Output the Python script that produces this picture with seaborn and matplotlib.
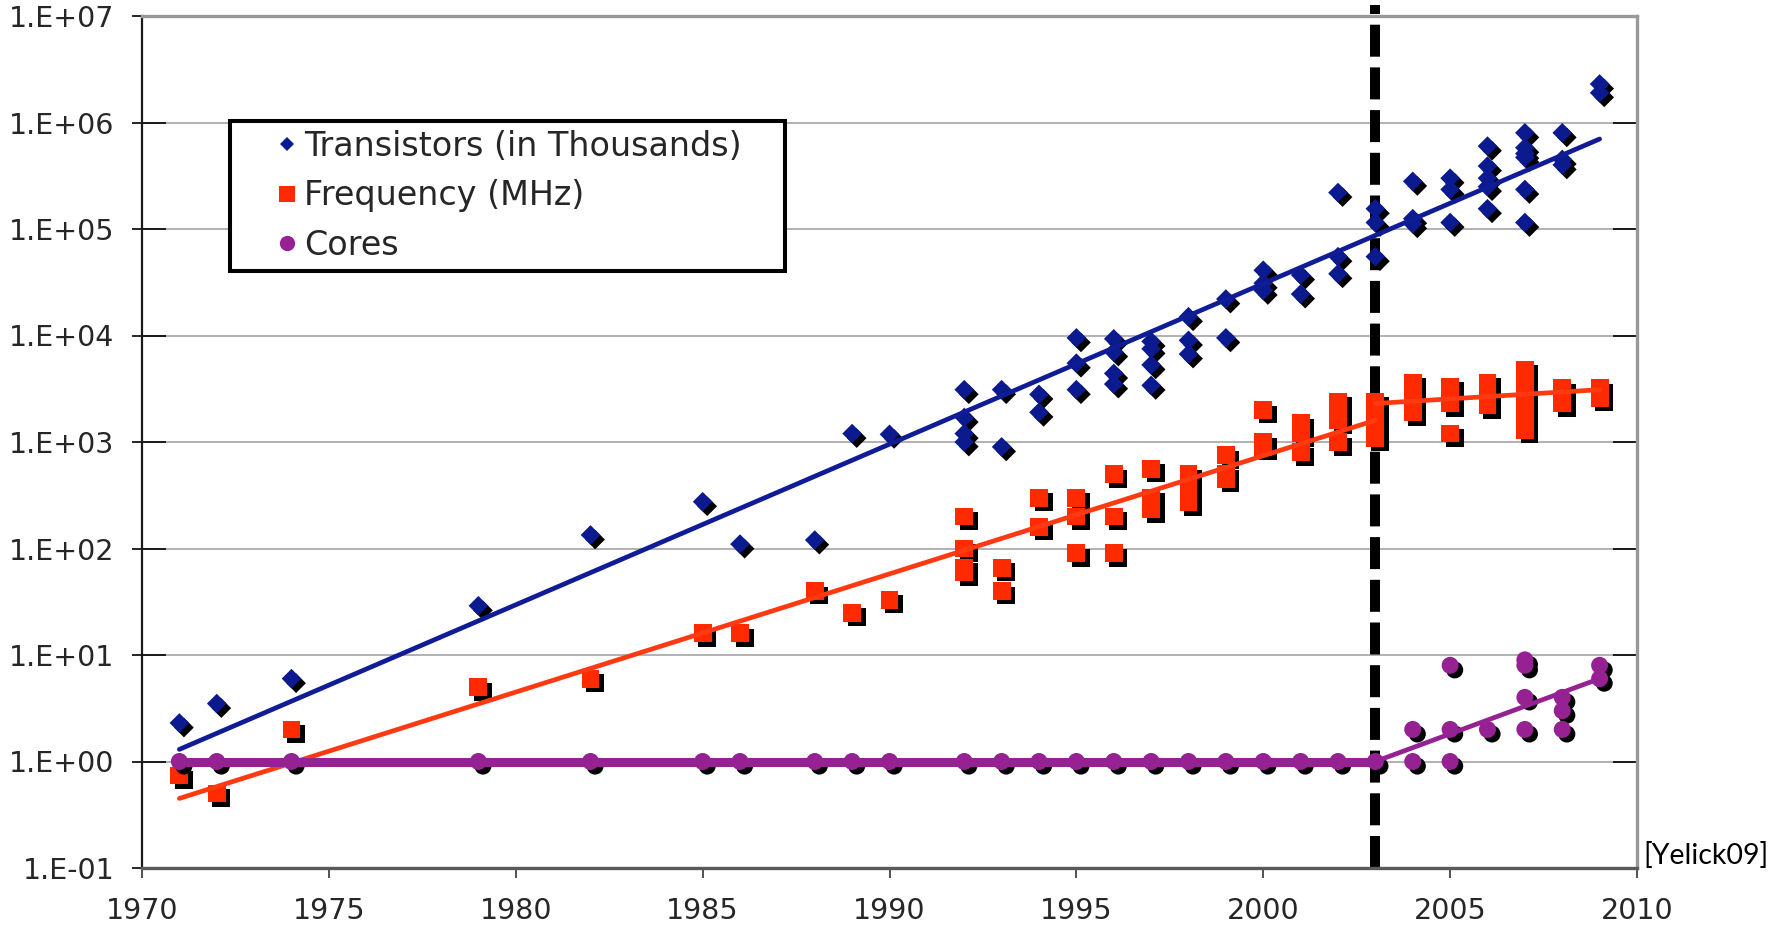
import numpy as np
import matplotlib
matplotlib.use("Agg")
import matplotlib.pyplot as plt
import matplotlib.patheffects as pe
from matplotlib.lines import Line2D
from matplotlib.ticker import FixedLocator, FuncFormatter, NullFormatter
import seaborn as sns

# ---------------- data ----------------
trans_years = [1971, 1972, 1974, 1979, 1982, 1985, 1986, 1988, 1989, 1990,
               1992, 1992, 1992, 1992, 1993, 1993, 1994, 1994,
               1995, 1995, 1995, 1996, 1996, 1996, 1996,
               1997, 1997, 1997, 1997, 1998, 1998, 1998, 1999, 1999,
               2000, 2000, 2000, 2001, 2001, 2002, 2002, 2002,
               2003, 2003, 2003, 2004, 2004, 2004, 2005, 2005, 2005,
               2006, 2006, 2006, 2006, 2006,
               2007, 2007, 2007, 2007, 2007, 2007,
               2008, 2008, 2008, 2009, 2009]
trans_vals = [2.3, 3.5, 6, 29, 134, 275, 110, 120, 1200, 1180,
              3100, 1700, 1200, 1000, 3100, 900, 2800, 1900,
              9500, 5500, 3100, 9300, 7000, 4400, 3500,
              8800, 7500, 5300, 3400, 15000, 9000, 6700, 22000, 9500,
              41000, 31000, 26500, 37000, 24500, 220000, 55000, 38000,
              155000, 115000, 55000, 280000, 125000, 112000, 300000, 235000, 115000,
              600000, 390000, 300000, 250000, 155000,
              800000, 580000, 510000, 470000, 235000, 115000,
              800000, 450000, 400000, 2300000, 1900000]

freq_years = [1971, 1972, 1974, 1979, 1982, 1985, 1986, 1988, 1989, 1990,
              1992, 1992, 1992, 1992, 1993, 1993, 1994, 1994,
              1995, 1995, 1995, 1996, 1996, 1996,
              1997, 1997, 1997, 1997, 1998, 1998, 1998, 1998,
              1999, 1999, 1999, 2000, 2000, 2000, 2001, 2001, 2001,
              2002, 2002, 2002, 2002, 2003, 2003, 2003, 2003,
              2004, 2004, 2004, 2004, 2005, 2005, 2005, 2005,
              2006, 2006, 2006, 2006,
              2007, 2007, 2007, 2007, 2007, 2007, 2007,
              2008, 2008, 2008, 2009, 2009, 2009]
freq_vals = [0.74, 0.5, 2, 5, 6, 16, 16, 40, 25, 33,
             200, 100, 66, 60, 66, 40, 300, 160,
             300, 200, 90, 500, 200, 90,
             560, 300, 260, 233, 500, 400, 300, 270,
             750, 500, 450, 2000, 1000, 900, 1500, 1200, 800,
             2400, 1900, 1600, 1000, 2400, 2000, 1500, 1100,
             3600, 3000, 2500, 1900, 3300, 2800, 2300, 1200,
             3600, 3000, 2600, 2200,
             4800, 4000, 3300, 2700, 2200, 1700, 1300,
             3200, 2800, 2300, 3200, 2900, 2600]

cores_years = [1971, 1972, 1974, 1979, 1982, 1985, 1986, 1988, 1989, 1990,
               1992, 1993, 1994, 1995, 1996, 1997, 1998, 1999, 2000, 2001,
               2002, 2003, 2004, 2004, 2005, 2005, 2005, 2006,
               2007, 2007, 2007, 2007, 2008, 2008, 2008, 2009, 2009]
cores_vals = [1, 1, 1, 1, 1, 1, 1, 1, 1, 1,
              1, 1, 1, 1, 1, 1, 1, 1, 1, 1,
              1, 1, 2, 1, 8, 2, 1, 2,
              9, 8, 4, 2, 4, 3, 2, 8, 6]

# trend lines
trans_trend_years = [1971, 2009]
trans_trend_vals = [1.3, 700000]
freq_trend1_years = [1971, 2003]
freq_trend1_vals = [0.45, 1600]
freq_trend2_years = [2003, 2009]
freq_trend2_vals = [2300, 3100]
cores_trend1_years = [1971, 2003]
cores_trend1_vals = [1, 1]
cores_trend2_years = [2003, 2009]
cores_trend2_vals = [1, 6]

x_ticks = [1970, 1975, 1980, 1985, 1990, 1995, 2000, 2005, 2010]
y_ticks = [1e-1, 1e0, 1e1, 1e2, 1e3, 1e4, 1e5, 1e6, 1e7]
series_labels = ["Transistors (in Thousands)", "Frequency (MHz)", "Cores"]
break_year = 2003
source_text = "[Yelick09]"

BLUE = "#0B1A8F"
RED = "#FF2A00"
PURPLE = "#952192"

# ---------------- figure ----------------
sns.set_style("white")
plt.rcParams['font.family'] = ['DejaVu Sans']

W, H = 1779, 926
fig = plt.figure(figsize=(W / 100, H / 100), dpi=100)
ax = fig.add_axes([142 / W, 1 - 868 / H, (1637 - 142) / W, (868 - 16) / H])
ax.set_yscale('log')
ax.set_xlim(1970, 2010)
ax.set_ylim(1e-1, 1e7)

shadow = [pe.SimplePatchShadow(offset=(3.3, -3.3), shadow_rgbFace='black', alpha=1.0),
          pe.Normal()]

ax.axvline(break_year, ymin=0, ymax=1.013, color='black', linewidth=7.2,
           linestyle=(0, (3.2, 1.07)), clip_on=False, zorder=2)

sns.scatterplot(x=trans_years, y=trans_vals, marker='D', s=100, color=BLUE,
                linewidth=0, ax=ax, zorder=3, path_effects=shadow, legend=False)
sns.scatterplot(x=freq_years, y=freq_vals, marker='s', s=165, color=RED,
                linewidth=0, ax=ax, zorder=3, path_effects=shadow, legend=False)
sns.scatterplot(x=cores_years, y=cores_vals, marker='o', s=150, color=PURPLE,
                linewidth=0, ax=ax, zorder=3, path_effects=shadow, legend=False)

sns.lineplot(x=trans_trend_years, y=trans_trend_vals, color="#101C96", linewidth=3.4,
             ax=ax, zorder=4, solid_capstyle='round')
sns.lineplot(x=freq_trend1_years, y=freq_trend1_vals, color="#FF3A12", linewidth=3.4,
             ax=ax, zorder=4, solid_capstyle='round')
sns.lineplot(x=freq_trend2_years, y=freq_trend2_vals, color="#FF3A12", linewidth=3.4,
             ax=ax, zorder=4, solid_capstyle='round')
sns.lineplot(x=cores_trend1_years, y=cores_trend1_vals, color=PURPLE, linewidth=6.5,
             ax=ax, zorder=4, solid_capstyle='round')
sns.lineplot(x=cores_trend2_years, y=cores_trend2_vals, color=PURPLE, linewidth=3.4,
             ax=ax, zorder=4, solid_capstyle='round')

# axes styling
ax.set_xlabel("")
ax.set_ylabel("")
ax.xaxis.set_major_locator(FixedLocator(x_ticks))
ax.xaxis.set_major_formatter(FuncFormatter(lambda v, _: f"{int(round(v))}"))
ax.yaxis.set_major_locator(FixedLocator(y_ticks))
ax.yaxis.set_major_formatter(FuncFormatter(lambda v, _: f"1.E{int(round(np.log10(v))):+03d}"))
ax.yaxis.set_minor_locator(FixedLocator(y_ticks[1:-1]))
ax.yaxis.set_minor_formatter(NullFormatter())
ax.yaxis.remove_overlapping_locs = False
ax.xaxis.set_minor_locator(FixedLocator([]))

ax.tick_params(axis='y', which='major', direction='out', length=7, width=1.2,
               color='black', left=True, right=False, labelsize=20.5, pad=13)
ax.tick_params(axis='y', which='minor', direction='in', length=17, width=1.2,
               color='black', left=True, right=True)
ax.tick_params(axis='x', which='major', direction='out', length=7, width=1.2,
               color='#333333', bottom=True, top=False, labelsize=20.5, pad=14)

ax.grid(True, axis='y', which='major', color='#ABABAB', linewidth=1.3, zorder=0)
ax.grid(False, axis='x')
ax.set_axisbelow(True)

ax.spines['left'].set_color('#1a1a1a')
ax.spines['left'].set_linewidth(1.6)
ax.spines['bottom'].set_color('#5a5a5a')
ax.spines['bottom'].set_linewidth(2.4)
ax.spines['top'].set_color('#999999')
ax.spines['top'].set_linewidth(2.4)
ax.spines['right'].set_color('#999999')
ax.spines['right'].set_linewidth(2.4)

handles = [
    Line2D([], [], marker='D', color=BLUE, linestyle='none', markersize=7.5, markeredgewidth=0),
    Line2D([], [], marker='s', color=RED, linestyle='none', markersize=11, markeredgewidth=0),
    Line2D([], [], marker='o', color=PURPLE, linestyle='none', markersize=11, markeredgewidth=0),
]
leg = ax.legend(handles, series_labels, loc='upper left',
                bbox_to_anchor=(230 / W, 1 - 269 / H, 555 / W, 148 / H),
                bbox_transform=fig.transFigure, mode='expand', borderaxespad=0,
                fontsize=24, frameon=True, fancybox=False, framealpha=1,
                edgecolor='black', borderpad=0.27, labelspacing=0.49,
                handlelength=2.88, handletextpad=-0.93)
leg.get_frame().set_linewidth(2.9)
leg.set_zorder(6)

fig.text(1643 / W, 1 - 856 / H, source_text, fontsize=20.5, family=['Lato', 'DejaVu Sans'],
         va='center', ha='left', color='black')

fig.savefig("out.png", dpi=100)
